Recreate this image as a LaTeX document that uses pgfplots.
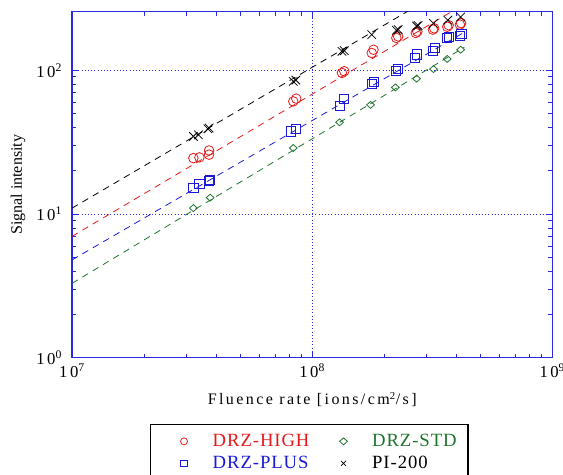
\documentclass[border=0pt]{standalone}
\usepackage{fontspec}
\setmainfont{Liberation Serif}
\usepackage{pgfplots}
\pgfplotsset{compat=1.18}
\definecolor{dred}{RGB}{230,25,25}
\definecolor{dblue}{RGB}{25,25,215}
\definecolor{dgreen}{RGB}{30,115,45}
\definecolor{frameblue}{RGB}{40,40,230}
\newcommand{\spc}{\addfontfeature{LetterSpace=15}}
\begin{document}
\begin{tikzpicture}
\useasboundingbox (-54pt,-87.75pt) rectangle (368pt,268.2pt);
\begin{axis}[
  scale only axis,
  width=360pt, height=259.3pt,
  xmode=log, ymode=log,
  xmin=1e7, xmax=1e9, ymin=1, ymax=255,
  axis line style={draw=frameblue, line width=0.9pt},
  every tick/.style={frameblue, line width=0.6pt},
  tick align=inside,
  major tick length=5pt, minor tick length=3pt,
  grid=major,
  major grid style={frameblue, dotted, line width=0.8pt},
  xticklabel={10\textsuperscript{\pgfmathtruncatemacro\e{round(\tick/ln(10))}\e}},
  yticklabel={10\textsuperscript{\pgfmathtruncatemacro\e{round(\tick/ln(10))}\e}},
  ticklabel style={font=\fontsize{12.5}{14}\selectfont\spc},
  yticklabel style={xshift=-4pt},
  xticklabel style={yshift=-1pt},
  xlabel={\spc Fluence rate [ions/cm\textsuperscript{2}/s]},
  xlabel style={at={(axis description cs:0.5,-0.136)}, anchor=base, font=\fontsize{12}{13}\selectfont},
  ylabel={Signal intensity},
  ylabel style={at={(axis description cs:-0.1125,0.5)}, anchor=center, font=\fontsize{12}{13}\selectfont},
  legend columns=2,
  legend cell align=left,
  legend image code/.code={
    \path[draw=none] (-16.5pt,0pt) -- (21.5pt,0pt);
    \draw[#1, line width=0.6pt, mark size=2.6pt] plot coordinates {(0pt,0pt)};
  },
  legend style={
    at={(axis description cs:0.494,-0.191)}, anchor=north,
    draw=black, line width=1.2pt,
    font=\fontsize{14}{15}\selectfont\addfontfeature{LetterSpace=5},
    nodes={inner xsep=0pt, inner ysep=0pt, text height=10pt, text depth=3pt},
    inner xsep=8.5pt, inner ysep=6pt,
    row sep=3.5pt,
    /tikz/every even column/.append style={column sep=9pt},
  },
]
% fitted lines
\addplot[black, line width=0.6pt, dash pattern=on 5pt off 4pt, forget plot] coordinates {(1e7,11.0) (4.3e8,438)};
\addplot[dred, line width=0.6pt, dash pattern=on 5pt off 4pt, forget plot] coordinates {(1e7,7.0) (4.3e8,289)};
\addplot[dblue, line width=0.6pt, dash pattern=on 5pt off 4pt, forget plot] coordinates {(1e7,4.8) (4.25e8,182)};
\addplot[dgreen, line width=0.6pt, dash pattern=on 5pt off 4pt, forget plot] coordinates {(1e7,3.3) (4.3e8,144.6)};

% DRZ-HIGH
\addplot[only marks, mark=o, dred, mark size=3.6pt, mark options={line width=0.6pt}] coordinates {
  (3.20e7,24.5) (3.39e7,24.8) (3.72e7,25.9) (3.72e7,27.7)
  (8.34e7,60.8) (8.58e7,63.5)
  (1.33e8,95.9) (1.36e8,98.5)
  (1.77e8,132) (1.80e8,139)
  (2.24e8,168) (2.28e8,172)
  (2.70e8,182) (2.74e8,186)
  (3.18e8,192) (3.22e8,196)
  (3.65e8,201) (3.70e8,206)
  (4.12e8,208) (4.17e8,213)
};
\addlegendentry{\textcolor{dred}{DRZ-HIGH}}
% DRZ-STD
\addplot[only marks, mark=diamond, dgreen, mark size=2.6pt, mark options={line width=0.6pt, xscale=1.5}] coordinates {
  (3.20e7,11.0) (3.76e7,13.0) (8.34e7,28.8) (1.30e8,43.5) (1.75e8,57.5)
  (2.22e8,76) (2.72e8,87.5) (3.20e8,102) (3.65e8,120) (4.15e8,139)
};
\addlegendentry{\textcolor{dgreen}{DRZ-STD}}
% DRZ-PLUS
\addplot[only marks, mark=square, dblue, mark size=3.4pt, mark options={line width=0.6pt}] coordinates {
  (3.20e7,15.1) (3.39e7,16.2) (3.72e7,17.1) (3.75e7,17.4)
  (8.15e7,37.6) (8.58e7,39.1)
  (1.30e8,56.7) (1.35e8,63.2)
  (1.77e8,80.4) (1.80e8,83.4)
  (2.24e8,99.5) (2.28e8,102)
  (2.68e8,122) (2.74e8,129)
  (3.17e8,136) (3.23e8,144)
  (3.63e8,167) (3.70e8,170)
  (4.12e8,174) (4.18e8,179)
};
\addlegendentry{\textcolor{dblue}{DRZ-PLUS}}
% PI-200
\addplot[only marks, mark=x, black, mark size=4.5pt, mark options={line width=0.6pt}] coordinates {
  (3.20e7,34.7) (3.36e7,35.6) (3.68e7,39.2) (3.72e7,39.7)
  (8.34e7,83.8) (8.55e7,85.5)
  (1.33e8,135.5) (1.36e8,137)
  (1.77e8,177)
  (2.24e8,190) (2.28e8,192)
  (2.72e8,203) (2.76e8,205)
  (3.20e8,212) (3.67e8,223) (4.15e8,235)
};
\addlegendentry{PI-200}
\end{axis}
\end{tikzpicture}
\end{document}
